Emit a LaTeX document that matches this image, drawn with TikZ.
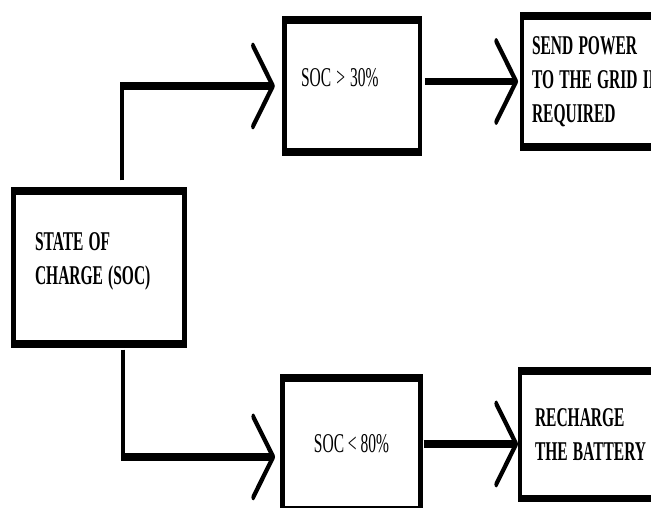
\documentclass[tikz,border=0pt]{standalone}
\usepackage{fontspec}
\setmainfont{Liberation Serif}
\usetikzlibrary{arrows.meta}

\newcommand{\boxfont}{\fontsize{15.5}{19.4}\selectfont}

\begin{document}
\begin{tikzpicture}
    \useasboundingbox (0,0) rectangle (651pt,-507pt);
    \clip (0,0) rectangle (651pt,-507pt);
    \begin{scope}[
        x=1pt, y=-0.5714pt, transform canvas={yscale=1.75},
        block/.style={rectangle, draw=black, line width=4.5pt, outer sep=0pt, align=left, font=\boxfont},
        conn/.style={line width=4.2pt, -{Straight Barb[length=20pt, width=46pt, line width=3.6pt, round]}}
    ]
    % boxes
    \node[block, font=\boxfont\bfseries, minimum width=171pt, minimum height=87.1pt,
          inner xsep=21.5pt, text width=128pt, text depth=29.6pt] (soc) at (99,267.5)
        {STATE OF\\CHARGE (SOC)};
    \node[block, minimum width=135.5pt, minimum height=75.4pt,
          inner xsep=16.5pt, text width=102pt, text depth=9.4pt] (high) at (352,86)
        {SOC > 30\%};
    \node[block, minimum width=138pt, minimum height=75.7pt] (low) at (351.5,444)
        {SOC < 80\%};
    \node[block, font=\boxfont\bfseries, minimum width=168pt, minimum height=74.9pt,
          inner xsep=10pt, text width=148pt] (send) at (606,81.5)
        {SEND POWER\\TO THE GRID IF\\REQUIRED};
    \node[block, font=\boxfont\bfseries, minimum width=170pt, minimum height=72.9pt,
          inner xsep=15pt, text width=140pt] (recharge) at (605,434.75)
        {RECHARGE\\THE BATTERY};

    % connectors
    \draw[conn] ([xshift=23pt,yshift=6.3pt]soc.north) |- ([xshift=-9.5pt]high.west);
    \draw[conn] ([xshift=24pt,yshift=-3.4pt]soc.south) |- ([xshift=-7.5pt,yshift=-7.4pt]low.west);
    \draw[conn] ([xshift=5pt]high.east |- send.west) -- ([xshift=-4pt]send.west);
    \draw[conn] ([xshift=3pt]low.east) -- ([xshift=-2pt]low.east -| recharge.west);
    \end{scope}
\end{tikzpicture}
\end{document}
